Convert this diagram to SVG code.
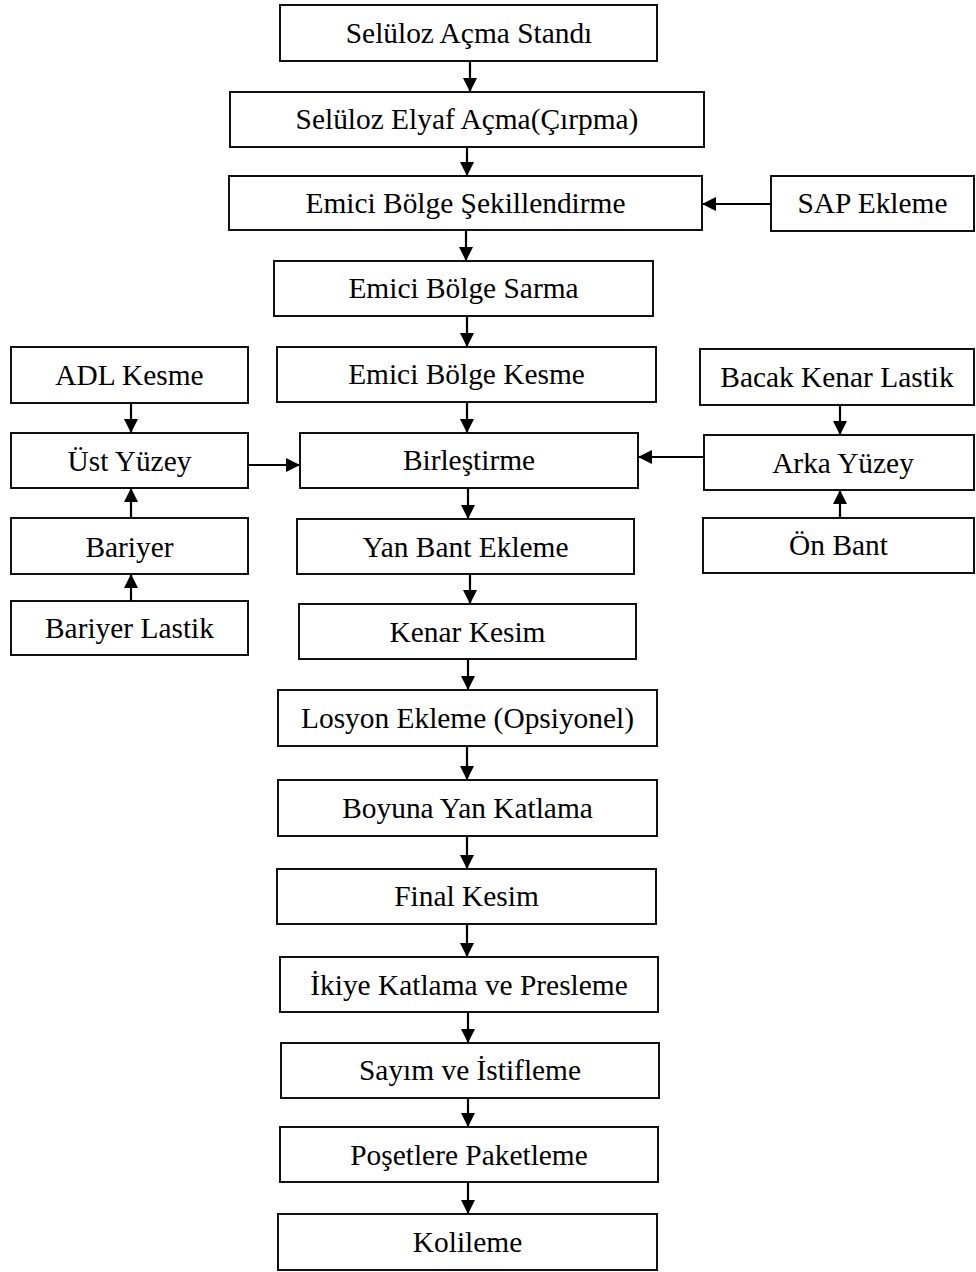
<svg xmlns="http://www.w3.org/2000/svg" width="976" height="1272" viewBox="0 0 976 1272">
  <style>
    .box { fill: #fff; stroke: #111; stroke-width: 2; }
    .lbl { font-family: "Liberation Serif", "Times New Roman", serif; font-size: 29.4px; fill: #000; text-anchor: middle; }
    .conn { stroke: #000; stroke-width: 2.2; fill: none; marker-end: url(#head); }
  </style>
  <defs>
    <marker id="head" markerUnits="userSpaceOnUse" markerWidth="16" markerHeight="16" refX="14" refY="7" orient="auto">
      <path d="M0,0 L14,7 L0,14 Z" fill="#000"/>
    </marker>
  </defs>
  <rect width="976" height="1272" fill="#fff"/>

  <!-- main line -->
  <g id="n-selulozAcma"><rect class="box" x="280" y="5" width="377" height="56"/><text class="lbl" x="469" y="43">Selüloz Açma Standı</text></g>
  <g id="n-elyafAcma"><rect class="box" x="230" y="92" width="474" height="55"/><text class="lbl" x="467" y="129">Selüloz Elyaf Açma(Çırpma)</text></g>
  <g id="n-sekillendirme"><rect class="box" x="229" y="176" width="473" height="54"/><text class="lbl" x="465.5" y="213">Emici Bölge Şekillendirme</text></g>
  <g id="n-sap"><rect class="box" x="771" y="176" width="203" height="55"/><text class="lbl" x="872.5" y="213">SAP Ekleme</text></g>
  <g id="n-sarma"><rect class="box" x="274" y="261" width="379" height="55"/><text class="lbl" x="463.5" y="298">Emici Bölge Sarma</text></g>
  <g id="n-kesme"><rect class="box" x="277" y="347" width="379" height="55"/><text class="lbl" x="466.5" y="384">Emici Bölge Kesme</text></g>
  <g id="n-birlestirme"><rect class="box" x="300" y="433" width="338" height="55"/><text class="lbl" x="469" y="470">Birleştirme</text></g>
  <g id="n-yanBant"><rect class="box" x="297" y="519" width="337" height="55"/><text class="lbl" x="465.5" y="557">Yan Bant Ekleme</text></g>
  <g id="n-kenarKesim"><rect class="box" x="299" y="604" width="337" height="55"/><text class="lbl" x="467.5" y="642">Kenar Kesim</text></g>
  <g id="n-losyon"><rect class="box" x="278" y="690" width="379" height="56"/><text class="lbl" x="467.5" y="728">Losyon Ekleme (Opsiyonel)</text></g>
  <g id="n-boyuna"><rect class="box" x="278" y="780" width="379" height="56"/><text class="lbl" x="467.5" y="818">Boyuna Yan Katlama</text></g>
  <g id="n-finalKesim"><rect class="box" x="277" y="869" width="379" height="55"/><text class="lbl" x="466.5" y="906">Final Kesim</text></g>
  <g id="n-ikiye"><rect class="box" x="280" y="957" width="378" height="55"/><text class="lbl" x="469" y="995">İkiye Katlama ve Presleme</text></g>
  <g id="n-sayim"><rect class="box" x="281" y="1043" width="378" height="55"/><text class="lbl" x="470" y="1080">Sayım ve İstifleme</text></g>
  <g id="n-posetleme"><rect class="box" x="280" y="1127" width="378" height="55"/><text class="lbl" x="469" y="1165">Poşetlere Paketleme</text></g>
  <g id="n-kolileme"><rect class="box" x="278" y="1214" width="379" height="56"/><text class="lbl" x="467.5" y="1252">Kolileme</text></g>

  <!-- left feed -->
  <g id="n-adl"><rect class="box" x="11" y="347" width="237" height="56"/><text class="lbl" x="129.5" y="385">ADL Kesme</text></g>
  <g id="n-ustYuzey"><rect class="box" x="11" y="433" width="237" height="55"/><text class="lbl" x="129.5" y="471">Üst Yüzey</text></g>
  <g id="n-bariyer"><rect class="box" x="11" y="518" width="237" height="56"/><text class="lbl" x="129.5" y="557">Bariyer</text></g>
  <g id="n-bariyerLastik"><rect class="box" x="11" y="601" width="237" height="54"/><text class="lbl" x="129.5" y="638">Bariyer Lastik</text></g>

  <!-- right feed -->
  <g id="n-bacak"><rect class="box" x="700" y="349" width="274" height="56"/><text class="lbl" x="837" y="387">Bacak Kenar Lastik</text></g>
  <g id="n-arkaYuzey"><rect class="box" x="704" y="435" width="270" height="55"/><text class="lbl" x="843" y="473">Arka Yüzey</text></g>
  <g id="n-onBant"><rect class="box" x="703" y="518" width="271" height="55"/><text class="lbl" x="838.5" y="555">Ön Bant</text></g>

  <g id="connectors">
    <line class="conn" x1="470" y1="61" x2="470" y2="92"/>
    <line class="conn" x1="467" y1="147" x2="467" y2="176"/>
    <line class="conn" x1="466" y1="230" x2="466" y2="261"/>
    <line class="conn" x1="467" y1="316" x2="467" y2="347"/>
    <line class="conn" x1="467" y1="402" x2="467" y2="433"/>
    <line class="conn" x1="468" y1="488" x2="468" y2="519"/>
    <line class="conn" x1="470" y1="574" x2="470" y2="604"/>
    <line class="conn" x1="468" y1="659" x2="468" y2="690"/>
    <line class="conn" x1="467" y1="746" x2="467" y2="780"/>
    <line class="conn" x1="467" y1="836" x2="467" y2="869"/>
    <line class="conn" x1="467" y1="924" x2="467" y2="957"/>
    <line class="conn" x1="468" y1="1012" x2="468" y2="1043"/>
    <line class="conn" x1="468" y1="1098" x2="468" y2="1127"/>
    <line class="conn" x1="468" y1="1182" x2="468" y2="1214"/>
    <line class="conn" x1="771" y1="204" x2="702" y2="204"/>
    <line class="conn" x1="248" y1="465" x2="300" y2="465"/>
    <line class="conn" x1="704" y1="457" x2="638" y2="457"/>
    <line class="conn" x1="131" y1="403" x2="131" y2="433"/>
    <line class="conn" x1="131" y1="518" x2="131" y2="488"/>
    <line class="conn" x1="131" y1="601" x2="131" y2="574"/>
    <line class="conn" x1="840" y1="405" x2="840" y2="435"/>
    <line class="conn" x1="840" y1="518" x2="840" y2="490"/>
  </g>
</svg>
